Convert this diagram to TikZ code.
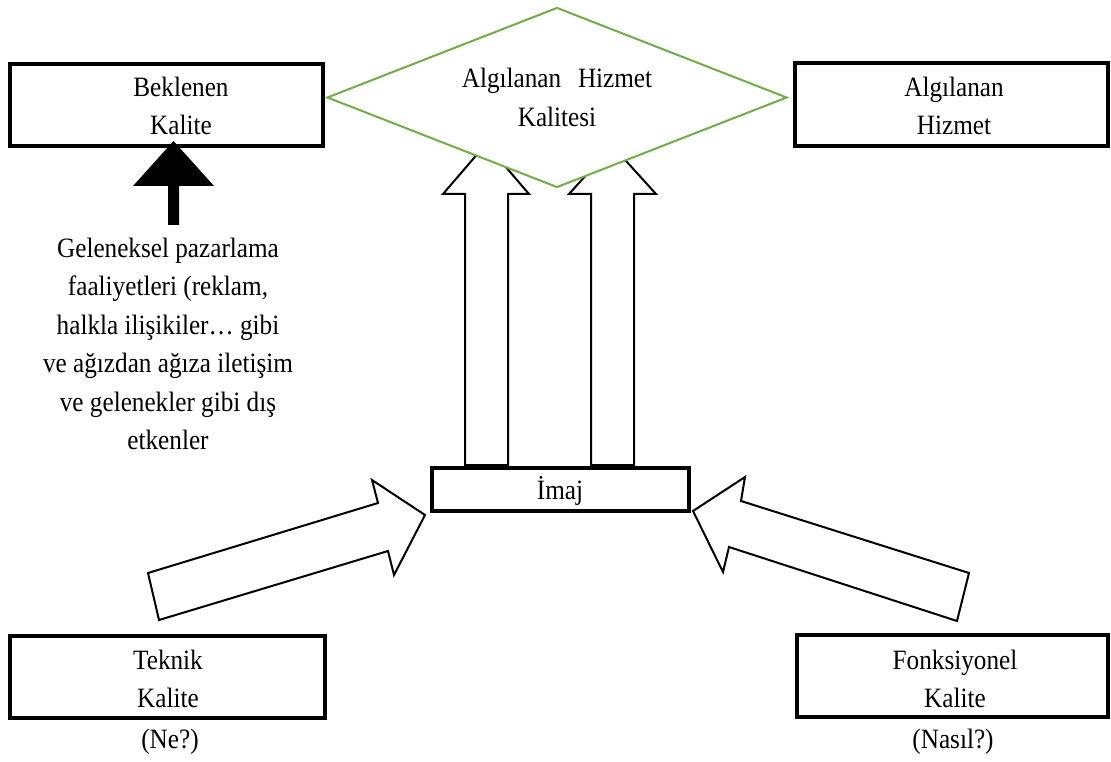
\documentclass[tikz,border=0pt]{standalone}
\usepackage{fontspec}
\setmainfont{Liberation Serif}[FakeStretch=0.9]
\usetikzlibrary{shapes.geometric}
\definecolor{dgreen}{HTML}{70AD47}
\begin{document}
\begin{tikzpicture}[x=1pt,y=-1pt,
  box/.style={draw=black,line width=4pt,fill=white,inner sep=0pt},
  txt/.style={font=\fontsize{28}{38.5}\selectfont,align=center,inner sep=0pt},
  blockarrow/.style={draw=black,line width=2pt,fill=white,line join=miter},
]
\useasboundingbox (0,0) rectangle (1111,762);
% up block arrows (under diamond)
\draw[blockarrow] (465,465) -- (465,194) -- (443,194) -- (486,144) -- (529,194) -- (508,194) -- (508,465) -- cycle;
\draw[blockarrow] (591,465) -- (591,194) -- (569,194) -- (612.5,146) -- (656,194) -- (634,194) -- (634,465) -- cycle;
% diamond
\node[draw=dgreen,line width=2pt,fill=white,shape=diamond,minimum width=460pt,minimum height=180pt,aspect=2.556,inner sep=0pt,txt] (ahk) at (557,97.5) {Algılanan\hspace{0.6em}Hizmet\\Kalitesi};
% boxes
\node[box,minimum width=313pt,minimum height=82pt] (bk) at (166.5,105) {};
\node[txt] (bkt) at (181,106) {Beklenen\\Kalite};
\node[box,minimum width=313pt,minimum height=83pt] (ah) at (951.5,105) {};
\node[txt] (aht) at (954,106) {Algılanan\\Hizmet};
\node[box,minimum width=257pt,minimum height=43pt] (im) at (560.5,489.5) {};
\node[txt] (imt) at (560,491) {İmaj};
\node[box,minimum width=315pt,minimum height=82pt] (tk) at (167.5,677) {};
\node[txt] (tkt) at (168,679) {Teknik\\Kalite};
\node[txt] (ne) at (170,742) {(Ne?)};
\node[box,minimum width=311pt,minimum height=82pt] (fk) at (952.5,676) {};
\node[txt] (fkt) at (955,679) {Fonksiyonel\\Kalite};
\node[txt] (ns) at (953,742) {(Nasıl?)};
% external factors text
\node[txt] (ext) at (168,344) {Geleneksel pazarlama\\faaliyetleri (reklam,\\halkla ilişikiler… gibi\\ve ağızdan ağıza iletişim\\ve gelenekler gibi dış\\etkenler};
% black arrow
\coordinate (bs) at (173.5,225);
\fill[black] (168,225) -- (168,186) -- (133,186) -- (173.5,141) -- (214,186) -- (179,186) -- (179,225) -- cycle;
% slanted block arrows
\draw[blockarrow] (159,620) -- (148,573) -- (378,503) -- (372,480) -- (425,515) -- (394,575) -- (388,551) -- cycle;
\draw[blockarrow] (957,621) -- (969,573) -- (741,501) -- (745,477) -- (693,511) -- (723,572) -- (729,547) -- cycle;
\end{tikzpicture}
\end{document}
